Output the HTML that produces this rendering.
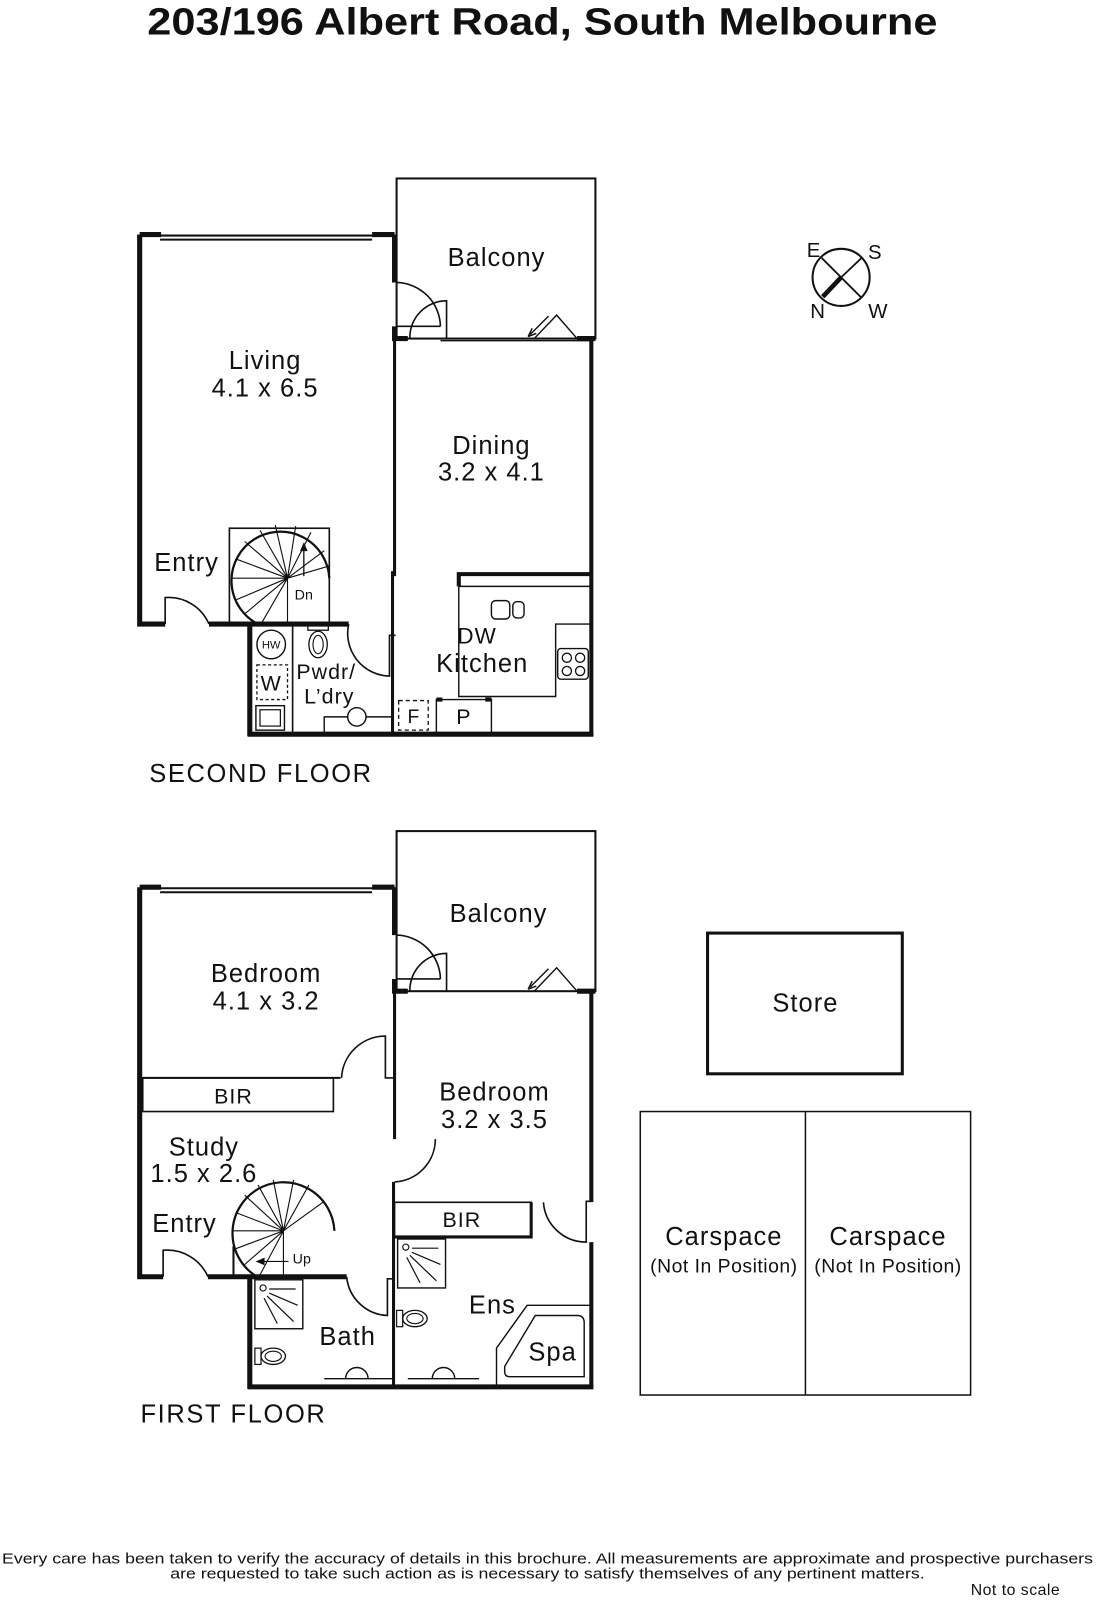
<!DOCTYPE html>
<html><head><meta charset="utf-8"><style>
html,body{margin:0;padding:0;background:#fff;}
svg{display:block;}
text{font-family:"Liberation Sans",sans-serif;fill:#111;}
</style></head><body>
<svg width="1096" height="1600" viewBox="0 0 1075 1569" preserveAspectRatio="none" xmlns="http://www.w3.org/2000/svg">
<g fill="none" stroke="#111" stroke-linecap="butt">
<path d="M137,231 H387 M157,235 H365" stroke-width="2"/>
<path d="M137,230 H158 M365,230 H387" stroke-width="5"/>
<path d="M137,230 V612 H162" stroke-width="5"/>
<path d="M387,230 V277" stroke-width="5"/>
<path d="M387,320 V332 H400" stroke-width="5"/>
<rect x="389" y="175" width="195" height="157" stroke-width="2"/>
<path d="M566,332 H584" stroke-width="5"/>
<path d="M389,277 A44,44 0 0 1 432,320 M389,320 H432" stroke-width="1.6"/>
<path d="M402,332 A36,36 0 0 1 438,295 V332" stroke-width="1.6"/>
<path d="M524,332 L546,309 L566,332 M538,310 L520,328 M518,330 l4,-8 M518,330 l8,-3" stroke-width="1.4"/>
<path d="M432,334 H580" stroke-width="1.4"/>
<path d="M387,332 V565" stroke-width="3"/>
<path d="M385,560 V720" stroke-width="3"/>
<path d="M580,332 V722" stroke-width="4"/>
<path d="M243,720 H582" stroke-width="5"/>
<path d="M450,575 V563 H580" stroke-width="4"/>
<path d="M450,575 H580 M450,575 V683 H545 V612 H580" stroke-width="1.4"/>
<rect x="482" y="589" width="18" height="18" rx="4" stroke-width="1.4"/>
<rect x="503" y="590" width="11" height="16" rx="4" stroke-width="1.4"/>
<rect x="547" y="636" width="30" height="30" rx="3" stroke-width="1.4"/>
<circle cx="556" cy="645" r="4.5" stroke-width="1.3"/><circle cx="569" cy="645" r="4.5" stroke-width="1.3"/>
<circle cx="556" cy="658" r="4.5" stroke-width="1.3"/><circle cx="569" cy="658" r="4.5" stroke-width="1.3"/>
<path d="M428,720 V686 H482 V720" stroke-width="1.4"/>
<path d="M428,686 H434 M476,686 H482" stroke-width="4"/>
<rect x="391" y="687" width="29" height="29" stroke-width="1.3" stroke-dasharray="4,3"/>
<path d="M162,612 V586 A43,43 0 0 1 205,612" stroke-width="1.6"/>
<path d="M205,612 H342" stroke-width="5"/>
<rect x="225" y="518" width="98" height="94" stroke-width="1.6"/>
<path d="M323,567 A48,48 0 1 0 253,612" stroke-width="2.2"/>
<g stroke-width="1.1">
<path d="M282,567 L228,567 M282,567 L231,548 M282,567 L240,531 M282,567 L255,520 M282,567 L270,515 M282,567 L290,516 M282,567 L305,522 M282,567 L318,540 M282,567 L323,555 M282,567 L232,588 M282,567 L240,602 M282,567 L256,612 M282,567 V612"/>
</g>
<path d="M298,565 V537" stroke-width="1.3"/><path d="M298,533 l-3,7 h6 z" fill="#111" stroke-width="1"/>
<path d="M245,612 V722" stroke-width="5"/>
<path d="M287,612 V720" stroke-width="1.6"/>
<path d="M342,612 A42,42 0 0 0 382,663 V623 H388" stroke-width="1.6"/>
<circle cx="266" cy="632" r="14" stroke-width="1.4"/>
<rect x="252" y="652" width="30" height="34" stroke-width="1.3" stroke-dasharray="3,2.5"/>
<rect x="251" y="692" width="28" height="24" stroke-width="1.4"/>
<rect x="255" y="696" width="20" height="16" stroke-width="1.2"/>
<rect x="302" y="612" width="20" height="6" stroke-width="1.3"/>
<ellipse cx="312" cy="632" rx="9" ry="13" stroke-width="1.3"/>
<ellipse cx="312" cy="632" rx="5" ry="9" stroke-width="1.1"/>
<path d="M318,720 V703 H341 M359,703 H385" stroke-width="1.4"/>
<circle cx="350" cy="703" r="9" stroke-width="1.4"/>
<circle cx="825" cy="272" r="28" stroke-width="2"/>
<path d="M806,253 L845,292 M845,253 L825,272" stroke-width="1.8"/>
<path d="M825,272 L807,291" stroke-width="4.5"/>

<path d="M137,871 H387 M157,875 H365" stroke-width="2"/>
<path d="M137,870 H158 M365,870 H387" stroke-width="5"/>
<path d="M137,870 V1252 H160" stroke-width="5"/>
<path d="M387,870 V917" stroke-width="5"/>
<path d="M387,960 V972 H400" stroke-width="5"/>
<rect x="389" y="815" width="195" height="157" stroke-width="2"/>
<path d="M566,972 H584" stroke-width="5"/>
<path d="M389,917 A44,44 0 0 1 432,960 M389,960 H432" stroke-width="1.6"/>
<path d="M402,972 A36,36 0 0 1 438,935 V972" stroke-width="1.6"/>
<path d="M524,972 L546,949 L566,972 M538,950 L520,968 M518,970 l4,-8 M518,970 l8,-3" stroke-width="1.4"/>
<path d="M387,972 V1117" stroke-width="3"/>
<path d="M427,1117 A42,42 0 0 1 387,1159" stroke-width="1.6"/>
<path d="M386,1159 V1360" stroke-width="3"/>
<path d="M580,972 V1178 M580,1218 V1362" stroke-width="4"/>
<path d="M533,1179 A42,42 0 0 0 575,1218 V1178 H582" stroke-width="1.6"/>
<rect x="387" y="1179" width="134" height="34" stroke-width="1.6"/>
<path d="M387,1213 H521 V1179" stroke-width="3"/>
<path d="M243,1360 H582" stroke-width="5"/>
<path d="M140,1057 H334" stroke-width="2"/>
<rect x="140" y="1057" width="187" height="33" stroke-width="1.6"/>
<path d="M335,1057 A43,43 0 0 1 378,1016 V1057 H386" stroke-width="1.6"/>
<path d="M160,1252 V1226 A44,44 0 0 1 204,1252" stroke-width="1.6"/>
<path d="M204,1252 H340" stroke-width="5"/>
<path d="M229,1222 V1252" stroke-width="2"/>
<path d="M328,1207 A50,50 0 1 0 252,1252" stroke-width="2.2"/>
<g stroke-width="1.1">
<path d="M278,1207 H228 M278,1207 L231,1189 M278,1207 L240,1172 M278,1207 L253,1162 M278,1207 L268,1157 M278,1207 L288,1157 M278,1207 L303,1162 M278,1207 L318,1178 M278,1207 L230,1225 M278,1207 L240,1240 M278,1207 L254,1252 M278,1207 V1252"/>
</g>
<path d="M283,1237 H258" stroke-width="1.2"/><path d="M252,1237 l7,-3 v6 z" fill="#111" stroke-width="1"/>
<path d="M245,1252 V1362" stroke-width="5"/>
<path d="M340,1252 A42,42 0 0 0 380,1290 V1254 H386" stroke-width="1.6"/>
<rect x="250" y="1255" width="47" height="48" stroke-width="1.4"/>
<circle cx="258" cy="1263" r="3" stroke-width="1.1"/>
<path d="M264,1264 H290 M264,1268 L292,1280 M262,1271 L288,1296 M259,1273 L272,1298" stroke-width="1.2"/>
<rect x="250" y="1322" width="6" height="16" stroke-width="1.2"/>
<ellipse cx="268" cy="1330" rx="12" ry="8" stroke-width="1.3"/>
<ellipse cx="268" cy="1330" rx="8" ry="5" stroke-width="1.1"/>
<path d="M318,1352 H385" stroke-width="1.4"/>
<path d="M339,1352 A11,11 0 0 1 361,1352" stroke-width="1.4"/>
<rect x="390" y="1215" width="47" height="48" stroke-width="1.4"/>
<circle cx="398" cy="1223" r="3" stroke-width="1.1"/>
<path d="M404,1224 H430 M404,1228 L432,1240 M402,1231 L428,1256 M399,1233 L412,1258" stroke-width="1.2"/>
<rect x="389" y="1285" width="6" height="16" stroke-width="1.2"/>
<ellipse cx="407" cy="1293" rx="12" ry="8" stroke-width="1.3"/>
<ellipse cx="407" cy="1293" rx="8" ry="5" stroke-width="1.1"/>
<path d="M400,1352 H470" stroke-width="1.4"/>
<path d="M424,1352 A11,11 0 0 1 446,1352" stroke-width="1.4"/>
<path d="M487,1360 V1322 L517,1280 H580" stroke-width="1.4"/>
<path d="M495,1340 L525,1290 H566 Q573,1290 573,1297 V1350 H500 Q495,1350 495,1345 Z" stroke-width="1.4"/>
<rect x="694" y="915" width="191" height="138" stroke-width="3"/>
<rect x="628" y="1090" width="324" height="278" stroke-width="1.5"/>
<path d="M790,1090 V1368" stroke-width="1.5"/>
</g>

<text x="532" y="34" font-size="37" font-weight="bold" text-anchor="middle" textLength="775" lengthAdjust="spacingAndGlyphs">203/196 Albert Road, South Melbourne</text>
<g font-size="25" text-anchor="middle" letter-spacing="1">
<text x="260" y="362">Living</text><text x="260" y="389">4.1 x 6.5</text>
<text x="487" y="261">Balcony</text>
<text x="482" y="445">Dining</text><text x="482" y="471">3.2 x 4.1</text>
<text x="183" y="560">Entry</text>
<text x="468" y="631" font-size="22">DW</text>
<text x="473" y="659">Kitchen</text>
<text x="455" y="710" font-size="21">P</text>
<text x="406" y="709" font-size="19">F</text>
<text x="266" y="677" font-size="21">W</text>
<text x="266" y="636" font-size="11" letter-spacing="0">HW</text>
<text x="320" y="666" font-size="21">Pwdr/</text>
<text x="323" y="690" font-size="21">L’dry</text>
<text x="298" y="588" font-size="14" letter-spacing="0">Dn</text>
<text x="256" y="767" font-size="25" letter-spacing="1.6">SECOND FLOOR</text>
<text x="489" y="904">Balcony</text>
<text x="261" y="963">Bedroom</text><text x="261" y="990">4.1 x 3.2</text>
<text x="229" y="1082" font-size="21">BIR</text>
<text x="485" y="1079">Bedroom</text><text x="485" y="1106">3.2 x 3.5</text>
<text x="453" y="1203" font-size="21">BIR</text>
<text x="200" y="1133">Study</text><text x="200" y="1159">1.5 x 2.6</text>
<text x="181" y="1208">Entry</text>
<text x="296" y="1239" font-size="14" letter-spacing="0">Up</text>
<text x="341" y="1319">Bath</text>
<text x="483" y="1288">Ens</text>
<text x="542" y="1334">Spa</text>
<text x="229" y="1395" font-size="25" letter-spacing="1.6">FIRST FLOOR</text>
<text x="790" y="992">Store</text>
<text x="710" y="1221">Carspace</text><text x="710" y="1248" font-size="19" letter-spacing="0.5">(Not In Position)</text>
<text x="871" y="1221">Carspace</text><text x="871" y="1248" font-size="19" letter-spacing="0.5">(Not In Position)</text>
</g>
<g font-size="20" text-anchor="middle">
<text x="798" y="252">E</text><text x="858" y="254">S</text><text x="802" y="312">N</text><text x="861" y="312">W</text>
</g>
<text x="537" y="1533" font-size="14.5" text-anchor="middle" textLength="1070" lengthAdjust="spacingAndGlyphs">Every care has been taken to verify the accuracy of details in this brochure.  All measurements are approximate and prospective purchasers</text>
<text x="537" y="1548" font-size="14.5" text-anchor="middle" textLength="740" lengthAdjust="spacingAndGlyphs">are requested to take such action as is necessary to satisfy themselves of any pertinent matters.</text>
<text x="996" y="1564" font-size="15.5" text-anchor="middle" letter-spacing="0.5">Not to scale</text>
</svg>
</body></html>
